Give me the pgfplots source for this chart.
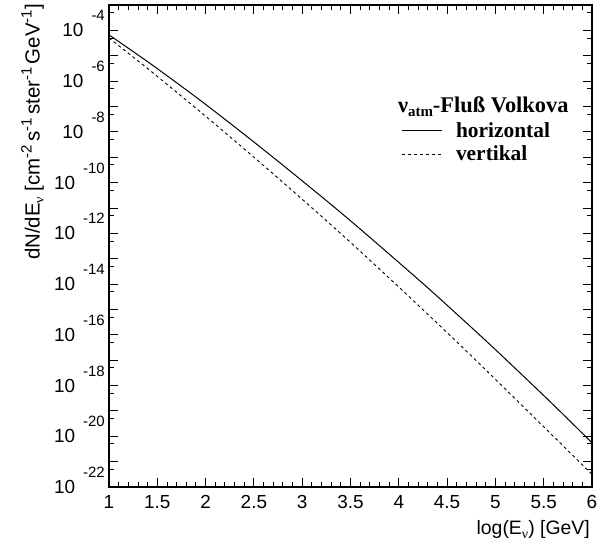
\documentclass[border=0pt]{standalone}
\usepackage{fontspec}
\setmainfont{Liberation Sans}
\newfontfamily\tms{Liberation Serif}
\usepackage{pgfplots}
\pgfplotsset{compat=1.18}

% ROOT-style power-of-ten tick label: "10" centred on the tick, exponent raised
\newcommand{\pw}[1]{\fontsize{19}{19}\selectfont 10\hspace{8bp}\smash{\raisebox{16bp}{\fontsize{15}{15}\selectfont #1}}}
\newcommand{\sub}[1]{\raisebox{-4bp}{\fontsize{14}{14}\selectfont #1}}
\newcommand{\supr}[1]{\raisebox{8bp}{\fontsize{15}{15}\selectfont #1}}

\begin{document}
\begin{tikzpicture}
\begin{axis}[
  scale only axis,
  width=483bp, height=482bp,
  xmin=1, xmax=6,
  ymode=log, ymin=1e-22, ymax=1e-3,
  xtick={1,1.5,2,2.5,3,3.5,4,4.5,5,5.5,6},
  xticklabels={1,1.5,2,2.5,3,3.5,4,4.5,5,5.5,6},
  minor x tick num=4,
  ytick={1e-22,1e-21,1e-20,1e-19,1e-18,1e-17,1e-16,1e-15,1e-14,1e-13,1e-12,1e-11,1e-10,1e-9,1e-8,1e-7,1e-6,1e-5,1e-4},
  yticklabels={\pw{-22},,\pw{-20},,\pw{-18},,\pw{-16},,\pw{-14},,\pw{-12},,\pw{-10},,\pw{-8},,\pw{-6},,\pw{-4}},
  minor ytick={5e-22,5e-21,5e-20,5e-19,5e-18,5e-17,5e-16,5e-15,5e-14,5e-13,5e-12,5e-11,5e-10,5e-9,5e-8,5e-7,5e-6,5e-5,5e-4},
  tick align=inside,
  xtick pos=both, ytick pos=both,
  xticklabel pos=lower, yticklabel pos=left,
  major tick length=9bp, minor tick length=5bp,
  tick style={black, line width=0.9bp},
  axis line style={line width=1.2bp},
  xticklabel style={font=\fontsize{19}{19}\selectfont, inner sep=0pt, yshift=-8bp},
  yticklabel style={inner sep=0pt, anchor=east, xshift=-4bp},
  legend style={draw=none, fill=none, at={(rel axis cs:0.598,0.765)}, anchor=north west,
    font=\tms\bfseries\fontsize{21.5}{21.5}\selectfont, row sep=3bp,
    /tikz/every odd column/.append style={column sep=12bp}},
  legend cell align=left,
  legend image code/.code={\draw[#1] (0bp,0bp) -- (40bp,0bp);},
]
% horizontal direction
\addplot[black, line width=1bp, smooth, tension=0.5] coordinates {
  (1.000, 6.61e-5) (1.424, 5.01e-6) (1.942, 1.78e-7) (2.460, 5.25e-9)
  (2.977, 1.38e-10) (3.495, 3.24e-12) (4.220, 1.32e-14) (4.634, 5.01e-16)
  (5.013, 2.34e-17) (5.565, 2.34e-19) (6.000, 5.50e-21)
};
\addlegendentry{horizontal}
% vertical direction
\addplot[black, line width=0.9bp, dash pattern=on 3bp off 3bp, smooth, tension=0.5] coordinates {
  (1.000, 5.01e-5) (1.424, 2.63e-6) (1.942, 6.31e-8) (2.460, 1.35e-9)
  (2.977, 2.63e-11) (3.495, 4.57e-13) (4.116, 2.95e-15) (4.737, 1.66e-17)
  (5.565, 1.35e-20) (6.000, 3.16e-22)
};
\addlegendentry{vertikal}
\node[anchor=base west, inner sep=0pt, font=\tms\bfseries\fontsize{22.5}{22.5}\selectfont]
  at (rel axis cs:0.598,0.778) {ν\sub{\fontsize{15}{15}\selectfont atm}-Fluß Volkova};
\end{axis}
\node[anchor=north east, inner sep=0pt, font=\fontsize{19.5}{19.5}\selectfont]
  at ([xshift=-2bp, yshift=-33bp]current axis.south east) {log(E\sub{\tms ν}) [GeV]};
\node[rotate=90, anchor=north east, inner sep=0pt, font=\fontsize{20.5}{20.5}\selectfont]
  at ([xshift=-88bp, yshift=1bp]current axis.north west)
  {dN/dE\sub{\tms ν} [cm\supr{-2}\,s\supr{-1}\,ster\supr{-1}\,GeV\supr{-1}]};
\pgfresetboundingbox
\path ([shift={(-109bp,-59bp)}]current axis.south west) rectangle ([shift={(6bp,5bp)}]current axis.north east);
\end{tikzpicture}
\end{document}
